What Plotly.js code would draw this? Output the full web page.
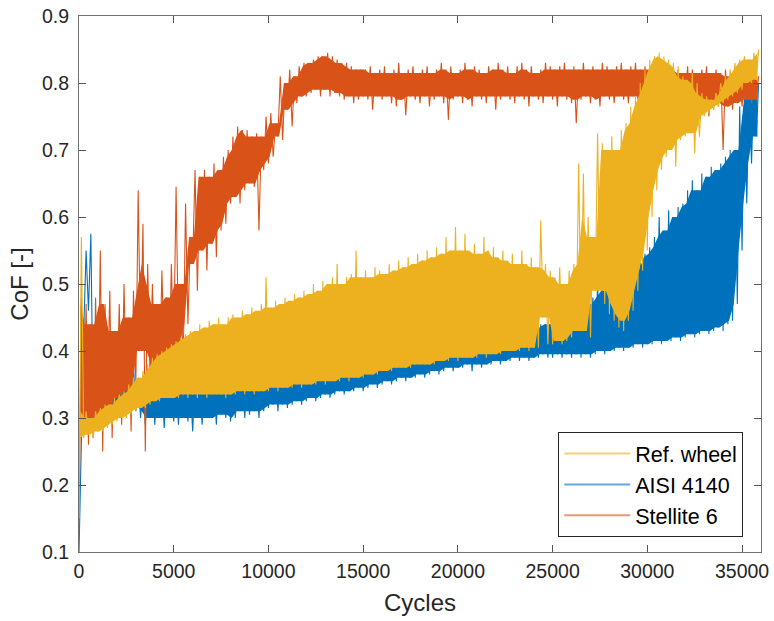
<!DOCTYPE html>
<html>
<head>
<meta charset="utf-8">
<script src="https://cdn.plot.ly/plotly-3.0.1.min.js"></script>
<style>
  html, body { margin: 0; padding: 0; background: #ffffff; }
  #chart { width: 774px; height: 621px; }
</style>
</head>
<body>
<div id="chart"></div>
<script>
// Binned CoF records: each bin spans binWidth cycles, lo = lower extreme, hi = upper extreme
const binWidth = 250;
const seriesNames = ["Ref. wheel", "AISI 4140", "Stellite 6"];

const refLo = [0.15,0.27,0.275,0.27,0.28,0.28,0.285,0.29,0.295,0.30,0.30,0.305,0.31,0.315,0.315,0.32,0.325,0.325,0.33,0.33,
0.33,0.33,0.335,0.33,0.335,0.33,0.335,0.33,0.335,0.335,0.335,0.33,0.335,0.335,0.34,0.335,0.34,0.335,0.34,0.34,
0.34,0.345,0.34,0.345,0.345,0.345,0.35,0.345,0.35,0.35,0.35,0.355,0.35,0.355,0.355,0.355,0.36,0.355,0.36,0.36,
0.36,0.365,0.365,0.365,0.37,0.37,0.37,0.375,0.375,0.375,0.375,0.38,0.38,0.38,0.38,0.38,0.385,0.385,0.385,0.39,
0.385,0.39,0.39,0.39,0.39,0.395,0.39,0.395,0.395,0.395,0.40,0.40,0.40,0.40,0.405,0.40,0.405,0.405,0.45,0.41,
0.41,0.415,0.41,0.415,0.42,0.43,0.43,0.43,0.42,0.49,0.49,0.47,0.455,0.445,0.435,0.43,0.445,0.46,0.49,0.52,
0.55,0.60,0.64,0.67,0.69,0.70,0.675,0.715,0.72,0.725,0.695,0.72,0.75,0.755,0.76,0.765,0.77,0.775,0.78,0.785,
0.79,0.80,0.80,0.805];
const refHi = [0.57,0.31,0.30,0.31,0.315,0.32,0.32,0.33,0.335,0.34,0.35,0.36,0.36,0.37,0.38,0.39,0.395,0.40,0.405,0.41,
0.415,0.42,0.425,0.43,0.43,0.44,0.435,0.445,0.44,0.45,0.44,0.45,0.455,0.45,0.46,0.455,0.465,0.46,0.47,0.51,
0.465,0.475,0.47,0.48,0.475,0.485,0.48,0.49,0.485,0.50,0.49,0.505,0.50,0.51,0.53,0.50,0.51,0.515,0.55,0.51,
0.52,0.51,0.525,0.52,0.515,0.53,0.52,0.535,0.525,0.54,0.53,0.545,0.535,0.55,0.54,0.555,0.545,0.57,0.55,0.585,
0.55,0.575,0.55,0.56,0.545,0.57,0.55,0.555,0.54,0.55,0.535,0.545,0.53,0.55,0.53,0.54,0.525,0.595,0.53,0.52,
0.51,0.525,0.50,0.52,0.53,0.68,0.665,0.60,0.57,0.725,0.71,0.70,0.72,0.70,0.73,0.74,0.765,0.78,0.80,0.82,
0.835,0.84,0.845,0.84,0.835,0.83,0.825,0.81,0.805,0.815,0.80,0.785,0.78,0.775,0.785,0.80,0.81,0.82,0.83,0.835,
0.84,0.835,0.845,0.85];

const aisiLo = [0.10,0.43,0.46,0.30,0.31,0.30,0.32,0.31,0.32,0.31,0.33,0.32,0.31,0.30,0.29,0.30,0.29,0.30,0.285,0.30,
0.295,0.29,0.30,0.295,0.28,0.30,0.29,0.30,0.30,0.29,0.305,0.30,0.295,0.30,0.31,0.30,0.305,0.31,0.30,0.31,
0.315,0.32,0.31,0.32,0.315,0.32,0.325,0.32,0.325,0.33,0.325,0.33,0.335,0.33,0.335,0.34,0.335,0.34,0.34,0.345,
0.34,0.345,0.35,0.345,0.35,0.355,0.35,0.355,0.36,0.355,0.36,0.36,0.365,0.36,0.365,0.37,0.365,0.37,0.375,0.37,
0.375,0.375,0.38,0.37,0.38,0.375,0.38,0.38,0.385,0.38,0.385,0.385,0.39,0.385,0.39,0.385,0.39,0.39,0.395,0.39,
0.39,0.395,0.39,0.395,0.39,0.395,0.39,0.395,0.39,0.395,0.40,0.395,0.40,0.40,0.405,0.40,0.405,0.405,0.41,0.405,
0.41,0.41,0.415,0.41,0.415,0.415,0.42,0.415,0.42,0.425,0.42,0.425,0.43,0.425,0.43,0.435,0.43,0.44,0.445,0.47,
0.55,0.62,0.68,0.72];
const aisiHi = [0.28,0.55,0.575,0.36,0.35,0.37,0.36,0.38,0.38,0.37,0.39,0.38,0.36,0.35,0.35,0.36,0.35,0.35,0.36,0.35,
0.35,0.35,0.355,0.35,0.36,0.35,0.355,0.35,0.355,0.36,0.355,0.36,0.36,0.36,0.365,0.36,0.365,0.365,0.37,0.37,
0.37,0.375,0.37,0.375,0.37,0.38,0.375,0.38,0.38,0.385,0.38,0.385,0.39,0.385,0.39,0.39,0.39,0.395,0.39,0.395,
0.39,0.40,0.395,0.40,0.40,0.40,0.405,0.40,0.405,0.41,0.405,0.41,0.41,0.415,0.41,0.415,0.42,0.415,0.42,0.42,
0.42,0.425,0.42,0.425,0.42,0.425,0.43,0.425,0.43,0.425,0.43,0.43,0.435,0.43,0.435,0.44,0.435,0.44,0.44,0.44,
0.44,0.445,0.44,0.45,0.455,0.525,0.48,0.47,0.48,0.50,0.50,0.49,0.51,0.50,0.52,0.51,0.53,0.52,0.54,0.545,
0.555,0.57,0.60,0.58,0.61,0.60,0.615,0.62,0.64,0.655,0.64,0.665,0.66,0.675,0.67,0.68,0.69,0.70,0.70,0.765,
0.79,0.795,0.80,0.80];

const stelLo = [0.13,0.30,0.26,0.27,0.30,0.25,0.31,0.27,0.33,0.29,0.34,0.28,0.35,0.40,0.25,0.36,0.38,0.34,0.39,0.36,
0.40,0.41,0.38,0.44,0.53,0.49,0.55,0.52,0.56,0.54,0.58,0.59,0.62,0.63,0.62,0.64,0.65,0.645,0.58,0.67,
0.68,0.69,0.72,0.715,0.76,0.735,0.77,0.78,0.78,0.785,0.79,0.78,0.79,0.78,0.785,0.78,0.775,0.78,0.77,0.775,
0.78,0.775,0.76,0.78,0.775,0.78,0.77,0.765,0.775,0.752,0.78,0.775,0.77,0.78,0.765,0.775,0.78,0.77,0.745,0.775,
0.78,0.77,0.775,0.765,0.78,0.775,0.77,0.78,0.76,0.775,0.78,0.775,0.77,0.78,0.775,0.765,0.78,0.775,0.77,0.78,
0.775,0.765,0.78,0.775,0.77,0.74,0.775,0.78,0.77,0.775,0.765,0.78,0.775,0.77,0.78,0.775,0.77,0.78,0.775,0.77,
0.78,0.775,0.77,0.78,0.775,0.77,0.78,0.775,0.77,0.76,0.775,0.77,0.775,0.75,0.77,0.765,0.70,0.765,0.76,0.77,
0.765,0.775,0.77,0.775];
const stelHi = [0.48,0.47,0.44,0.48,0.55,0.47,0.49,0.43,0.47,0.50,0.45,0.49,0.64,0.59,0.53,0.50,0.47,0.52,0.48,0.53,
0.645,0.50,0.62,0.57,0.67,0.66,0.67,0.66,0.68,0.67,0.69,0.70,0.72,0.735,0.73,0.73,0.72,0.725,0.72,0.75,
0.755,0.74,0.81,0.80,0.82,0.81,0.825,0.83,0.83,0.835,0.84,0.84,0.845,0.84,0.835,0.83,0.83,0.825,0.82,0.82,
0.82,0.825,0.815,0.82,0.825,0.815,0.82,0.83,0.815,0.82,0.825,0.815,0.82,0.825,0.815,0.82,0.83,0.82,0.825,0.815,
0.82,0.83,0.82,0.825,0.82,0.815,0.825,0.82,0.83,0.82,0.825,0.815,0.825,0.83,0.82,0.825,0.815,0.82,0.83,0.825,
0.82,0.825,0.83,0.82,0.825,0.82,0.83,0.82,0.825,0.82,0.83,0.825,0.82,0.825,0.83,0.82,0.825,0.83,0.82,0.825,
0.82,0.83,0.825,0.83,0.82,0.825,0.82,0.815,0.825,0.82,0.815,0.82,0.825,0.815,0.82,0.815,0.82,0.81,0.815,0.82,
0.81,0.815,0.82,0.81];

const xTicks = [0,5000,10000,15000,20000,25000,30000,35000];
const yTicks = [0.1,0.2,0.3,0.4,0.5,0.6,0.7,0.8,0.9];

const colors = { ref: "#EDB120", aisi: "#0072BD", stel: "#D95319" };
const legendColors = { ref: "rgba(237,177,32,0.6)", aisi: "rgba(0,114,189,0.6)", stel: "rgba(217,83,25,0.6)" };

// zig-zag between the extremes of every bin (noise texture)
function zigzag(lo, hi) {
  const x = [], y = [];
  for (let i = 0; i < lo.length; i++) {
    x.push(i * binWidth); y.push(lo[i]);
    x.push(i * binWidth + binWidth / 2); y.push(hi[i]);
  }
  return { x, y };
}

// dense core of the signal: the band that neighbouring bins all cover
function core(lo, hi) {
  const n = lo.length, top = [], bot = [], xs = [];
  for (let i = 0; i < n; i++) {
    const a = Math.max(0, i - 1), b = Math.min(n - 1, i + 1);
    let t = Math.min(hi[a], hi[i], hi[b]);
    let u = Math.max(lo[a], lo[i], lo[b]);
    if (u > t) { const m = (hi[i] + lo[i]) / 2; t = m; u = m; }
    xs.push(i * binWidth + binWidth / 4); top.push(t); bot.push(u);
  }
  return { x: xs.concat(xs.slice().reverse()), y: top.concat(bot.slice().reverse()) };
}

const lw = 1.1;
function seriesTraces(lo, hi, color) {
  const z = zigzag(lo, hi), c = core(lo, hi);
  return [
    { type: "scatter", mode: "lines", x: c.x, y: c.y, fill: "toself", fillcolor: color,
      line: { width: 0, color: color }, showlegend: false, hoverinfo: "skip" },
    { type: "scatter", mode: "lines", x: z.x, y: z.y, line: { color: color, width: lw },
      showlegend: false, hoverinfo: "skip" }
  ];
}

const traces = [].concat(
  seriesTraces(aisiLo, aisiHi, colors.aisi),
  seriesTraces(stelLo, stelHi, colors.stel),
  seriesTraces(refLo, refHi, colors.ref),
  [
    { type: "scatter", mode: "lines", x: [null], y: [null], name: seriesNames[0], line: { color: legendColors.ref, width: 2 } },
    { type: "scatter", mode: "lines", x: [null], y: [null], name: seriesNames[1], line: { color: legendColors.aisi, width: 2 } },
    { type: "scatter", mode: "lines", x: [null], y: [null], name: seriesNames[2], line: { color: legendColors.stel, width: 2 } }
  ]
);

const axisCommon = {
  showline: true, linecolor: "#707070", linewidth: 1, mirror: "ticks",
  ticks: "inside", ticklen: 7, tickcolor: "#555555", tickwidth: 1,
  showgrid: false, zeroline: false,
  tickfont: { family: "Liberation Sans, Arial, sans-serif", size: 19.5, color: "#262626" }
};

const layout = {
  width: 774, height: 621,
  margin: { l: 79, r: 13, t: 16, b: 69 },
  paper_bgcolor: "#ffffff", plot_bgcolor: "#ffffff",
  font: { family: "Liberation Sans, Arial, sans-serif", color: "#262626" },
  xaxis: Object.assign({}, axisCommon, {
    range: [0, 36000], tickvals: xTicks, ticktext: xTicks.map(String),
    ticklabelstandoff: 2,
    title: { text: "Cycles", font: { size: 24, color: "#262626" }, standoff: 12 }
  }),
  yaxis: Object.assign({}, axisCommon, {
    range: [0.1, 0.9], tickvals: yTicks, ticktext: yTicks.map(v => v.toFixed(1)),
    ticklabelstandoff: 5,
    title: { text: "CoF [-]", font: { size: 24, color: "#262626" }, standoff: 6 }
  }),
  legend: {
    x: 0.974, y: 0.028, xanchor: "right", yanchor: "bottom",
    bgcolor: "#ffffff", bordercolor: "#262626", borderwidth: 1,
    font: { size: 21.5, color: "#000000" },
    itemwidth: 66, tracegroupgap: 0
  }
};

Plotly.newPlot("chart", traces, layout, { displayModeBar: false, staticPlot: true });
</script>
</body>
</html>
